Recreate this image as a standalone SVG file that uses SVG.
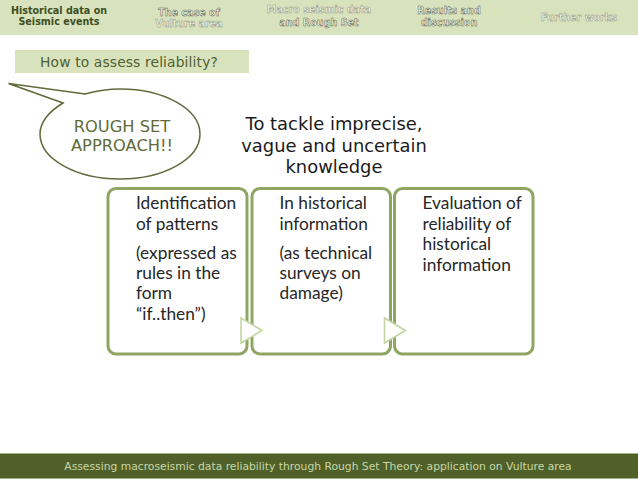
<svg xmlns="http://www.w3.org/2000/svg" width="638" height="479" viewBox="0 0 638 479">
<style>
text{text-anchor:middle}
.nav{font:bold 9.6px "DejaVu Sans",sans-serif}
.on{fill:#3f4f22}
.off{fill:#eef2e0;stroke:#55594a;stroke-width:.45px}
.faint{fill:#eef2e0;stroke:#8c9080;stroke-width:.45px}
.box{fill:#fff;stroke:#8fa663;stroke-width:3px}
.tri{fill:#fff;stroke:#c4d5a2;stroke-width:1.6px}
.body{font:17.3px Lato,"Open Sans",sans-serif;fill:#262626;text-anchor:start}
.v{font-family:"DejaVu Sans",sans-serif}
</style>
<rect width="638" height="35" fill="#d8e2bd"/>
<g id="nav-1"><text class="nav on" x="59" y="14">Historical data on</text><text class="nav on" x="59" y="25">Seismic events</text></g>
<g id="nav-2"><text class="nav off" x="189" y="16">The case of</text><text class="nav faint" x="189" y="27">Vulture area</text></g>
<g id="nav-3"><text class="nav faint" x="319" y="13">Macro seismic data</text><text class="nav off" x="319" y="26">and Rough Set</text></g>
<g id="nav-4"><text class="nav off" x="449" y="14">Results and</text><text class="nav off" x="449" y="26">discussion</text></g>
<g id="nav-5"><text class="nav faint" x="579" y="21">Further works</text></g>
<g id="question"><rect x="15" y="50" width="234" height="23" fill="#d8e2bd"/><text class="v" x="129" y="67" font-size="13.8" letter-spacing=".15" fill="#4f5f30">How to assess reliability?</text></g>
<g id="callout">
<path d="M8.500 83.500 L85 94 C100 90 112 89 120 89 C164 89 200 109 200 134 C200 159 164 179 120 179 C76 179 40 159 40 134 C40 122 50 111 63 103 Z" fill="#fff" stroke="#5f6b3a" stroke-width="1.500"/>
<text class="v" x="122" y="132" font-size="16.300" fill="#5f6b3a">ROUGH SET</text>
<text class="v" x="122" y="151" font-size="16.300" fill="#5f6b3a">APPROACH!!</text>
</g>
<g id="statement" class="v" font-size="17.900" fill="#1a1a1a">
<text x="334" y="130">To tackle imprecise,</text><text x="334" y="152">vague and uncertain</text><text x="334" y="173">knowledge</text>
</g>
<g id="box-1"><rect class="box" x="108" y="188.500" width="139" height="165.500" rx="8"/>
<text class="body"><tspan x="136" y="209">Identification</tspan><tspan x="136" y="229.500">of patterns</tspan><tspan x="136" y="258.500">(expressed as</tspan><tspan x="136" y="279">rules in the</tspan><tspan x="136" y="299">form</tspan><tspan x="136" y="319.500">“if..then”)</tspan></text></g>
<g id="box-2"><rect class="box" x="252" y="188.500" width="138.500" height="165.500" rx="8"/>
<text class="body"><tspan x="279.500" y="209">In historical</tspan><tspan x="279.500" y="229.500">information</tspan><tspan x="279.500" y="258.500">(as technical</tspan><tspan x="279.500" y="279">surveys on</tspan><tspan x="279.500" y="299">damage)</tspan></text></g>
<g id="box-3"><rect class="box" x="394.500" y="188.500" width="138.500" height="165.500" rx="8"/>
<text class="body"><tspan x="422.500" y="209">Evaluation of</tspan><tspan x="422.500" y="229.500">reliability of</tspan><tspan x="422.500" y="250">historical</tspan><tspan x="422.500" y="270.500">information</tspan></text></g>
<g id="connectors">
<polygon class="tri" points="241,318 262,330.500 241,343"/>
<polygon class="tri" points="384.500,318 405.500,330.500 384.500,343"/>
</g>
<g id="footer"><rect y="453" width="638" height="26" fill="#4f6128"/><rect y="453" width="638" height="1" fill="#a3b287"/><rect y="478" width="638" height="1" fill="#a3b287"/>
<text class="v" x="318" y="470" font-size="10.750" fill="#c9d6a8">Assessing macroseismic data reliability through Rough Set Theory: application on Vulture area</text></g>
</svg>
